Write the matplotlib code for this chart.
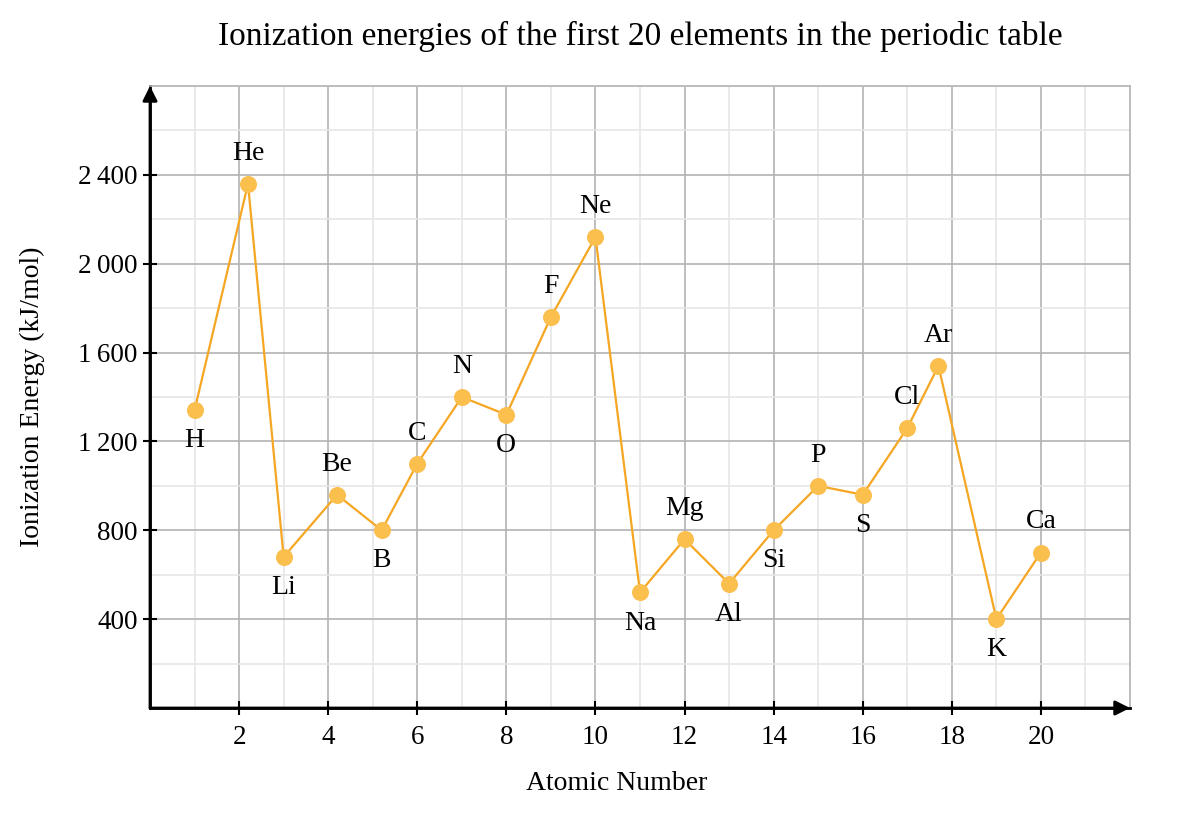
import matplotlib
matplotlib.use('Agg')
import matplotlib.pyplot as plt
from matplotlib.ticker import MultipleLocator, FuncFormatter

plt.rcParams['font.family'] = ['Liberation Serif', 'DejaVu Serif']

# Datos: energia de ionizacion de los primeros 20 elementos
simbolos = ['H', 'He', 'Li', 'Be', 'B', 'C', 'N', 'O', 'F', 'Ne',
            'Na', 'Mg', 'Al', 'Si', 'P', 'S', 'Cl', 'Ar', 'K', 'Ca']
numero = [1, 2.2, 3, 4.2, 5.2, 6, 7, 8, 9, 10,
          11, 12, 13, 14, 15, 16, 17, 17.7, 19, 20]
energia = [1340, 2360, 680, 960, 800, 1100, 1400, 1320, 1760, 2120,
           520, 760, 560, 800, 1000, 960, 1260, 1540, 400, 700]
# etiqueta arriba (1) o abajo (-1)
lado = [-1, 1, -1, 1, -1, 1, 1, -1, 1, 1,
        -1, 1, -1, -1, 1, -1, 1, 1, -1, 1]

xticks = [2, 4, 6, 8, 10, 12, 14, 16, 18, 20]
yticks = [400, 800, 1200, 1600, 2000, 2400]

linea = '#f5a623'
punto = '#fbbf4e'
gris_mayor = '#b3b3b3'
gris_menor = '#e6e6e6'

fig = plt.figure(figsize=(11.88, 8.32), dpi=100)
ax = fig.add_axes([150/1188, 1 - 708/832, 980/1188, 622/832])

ax.plot(numero, energia, color=linea, lw=1.6, zorder=3)
ax.scatter(numero, energia, s=150, color=punto, zorder=4, linewidths=0)

for s, x, y, l in zip(simbolos, numero, energia, lado):
    ax.annotate(s, (x, y), xytext=(0, 22 * l), textcoords='offset points',
                ha='center', va='center', fontsize=20)

ax.set_xlim(0, 22)
ax.set_ylim(0, 2800)
ax.set_xticks(xticks)
ax.set_yticks(yticks)
ax.xaxis.set_minor_locator(MultipleLocator(1))
ax.yaxis.set_minor_locator(MultipleLocator(200))
ax.yaxis.set_major_formatter(FuncFormatter(
    lambda v, p: f'{int(v):,}'.replace(',', '\u2009')))

ax.grid(which='minor', color=gris_menor, lw=1.2, zorder=0)
ax.grid(which='major', color=gris_mayor, lw=1.2, zorder=1)
ax.set_axisbelow(True)

ax.tick_params(which='major', direction='inout', length=10, width=1.5,
               labelsize=19.5)
ax.tick_params(axis='x', pad=7)
ax.tick_params(axis='y', pad=4)
ax.tick_params(which='minor', length=0)

for lado_sp in ['top', 'right']:
    ax.spines[lado_sp].set_color(gris_mayor)
    ax.spines[lado_sp].set_linewidth(1.2)
for lado_sp in ['left', 'bottom']:
    ax.spines[lado_sp].set_linewidth(2)

# flechas de los ejes
ax.annotate('', xy=(1, 0), xytext=(0, 0), xycoords='axes fraction',
            arrowprops=dict(arrowstyle='-|>', color='black', lw=2,
                            mutation_scale=22, shrinkA=0, shrinkB=0))
ax.annotate('', xy=(0, 1), xytext=(0, 0), xycoords='axes fraction',
            arrowprops=dict(arrowstyle='-|>', color='black', lw=2,
                            mutation_scale=22, shrinkA=0, shrinkB=0))

fig.text(640/1188, 1 - 36/832,
         'Ionization energies of the first 20 elements in the periodic table',
         ha='center', va='center', fontsize=24)
fig.text(617/1188, 1 - 784/832, 'Atomic Number', ha='center', va='center',
         fontsize=20)
fig.text(32/1188, 1 - 397/832, 'Ionization Energy (kJ/mol)', ha='center',
         va='center', rotation=90, fontsize=20)

fig.savefig('out.png', dpi=100)
